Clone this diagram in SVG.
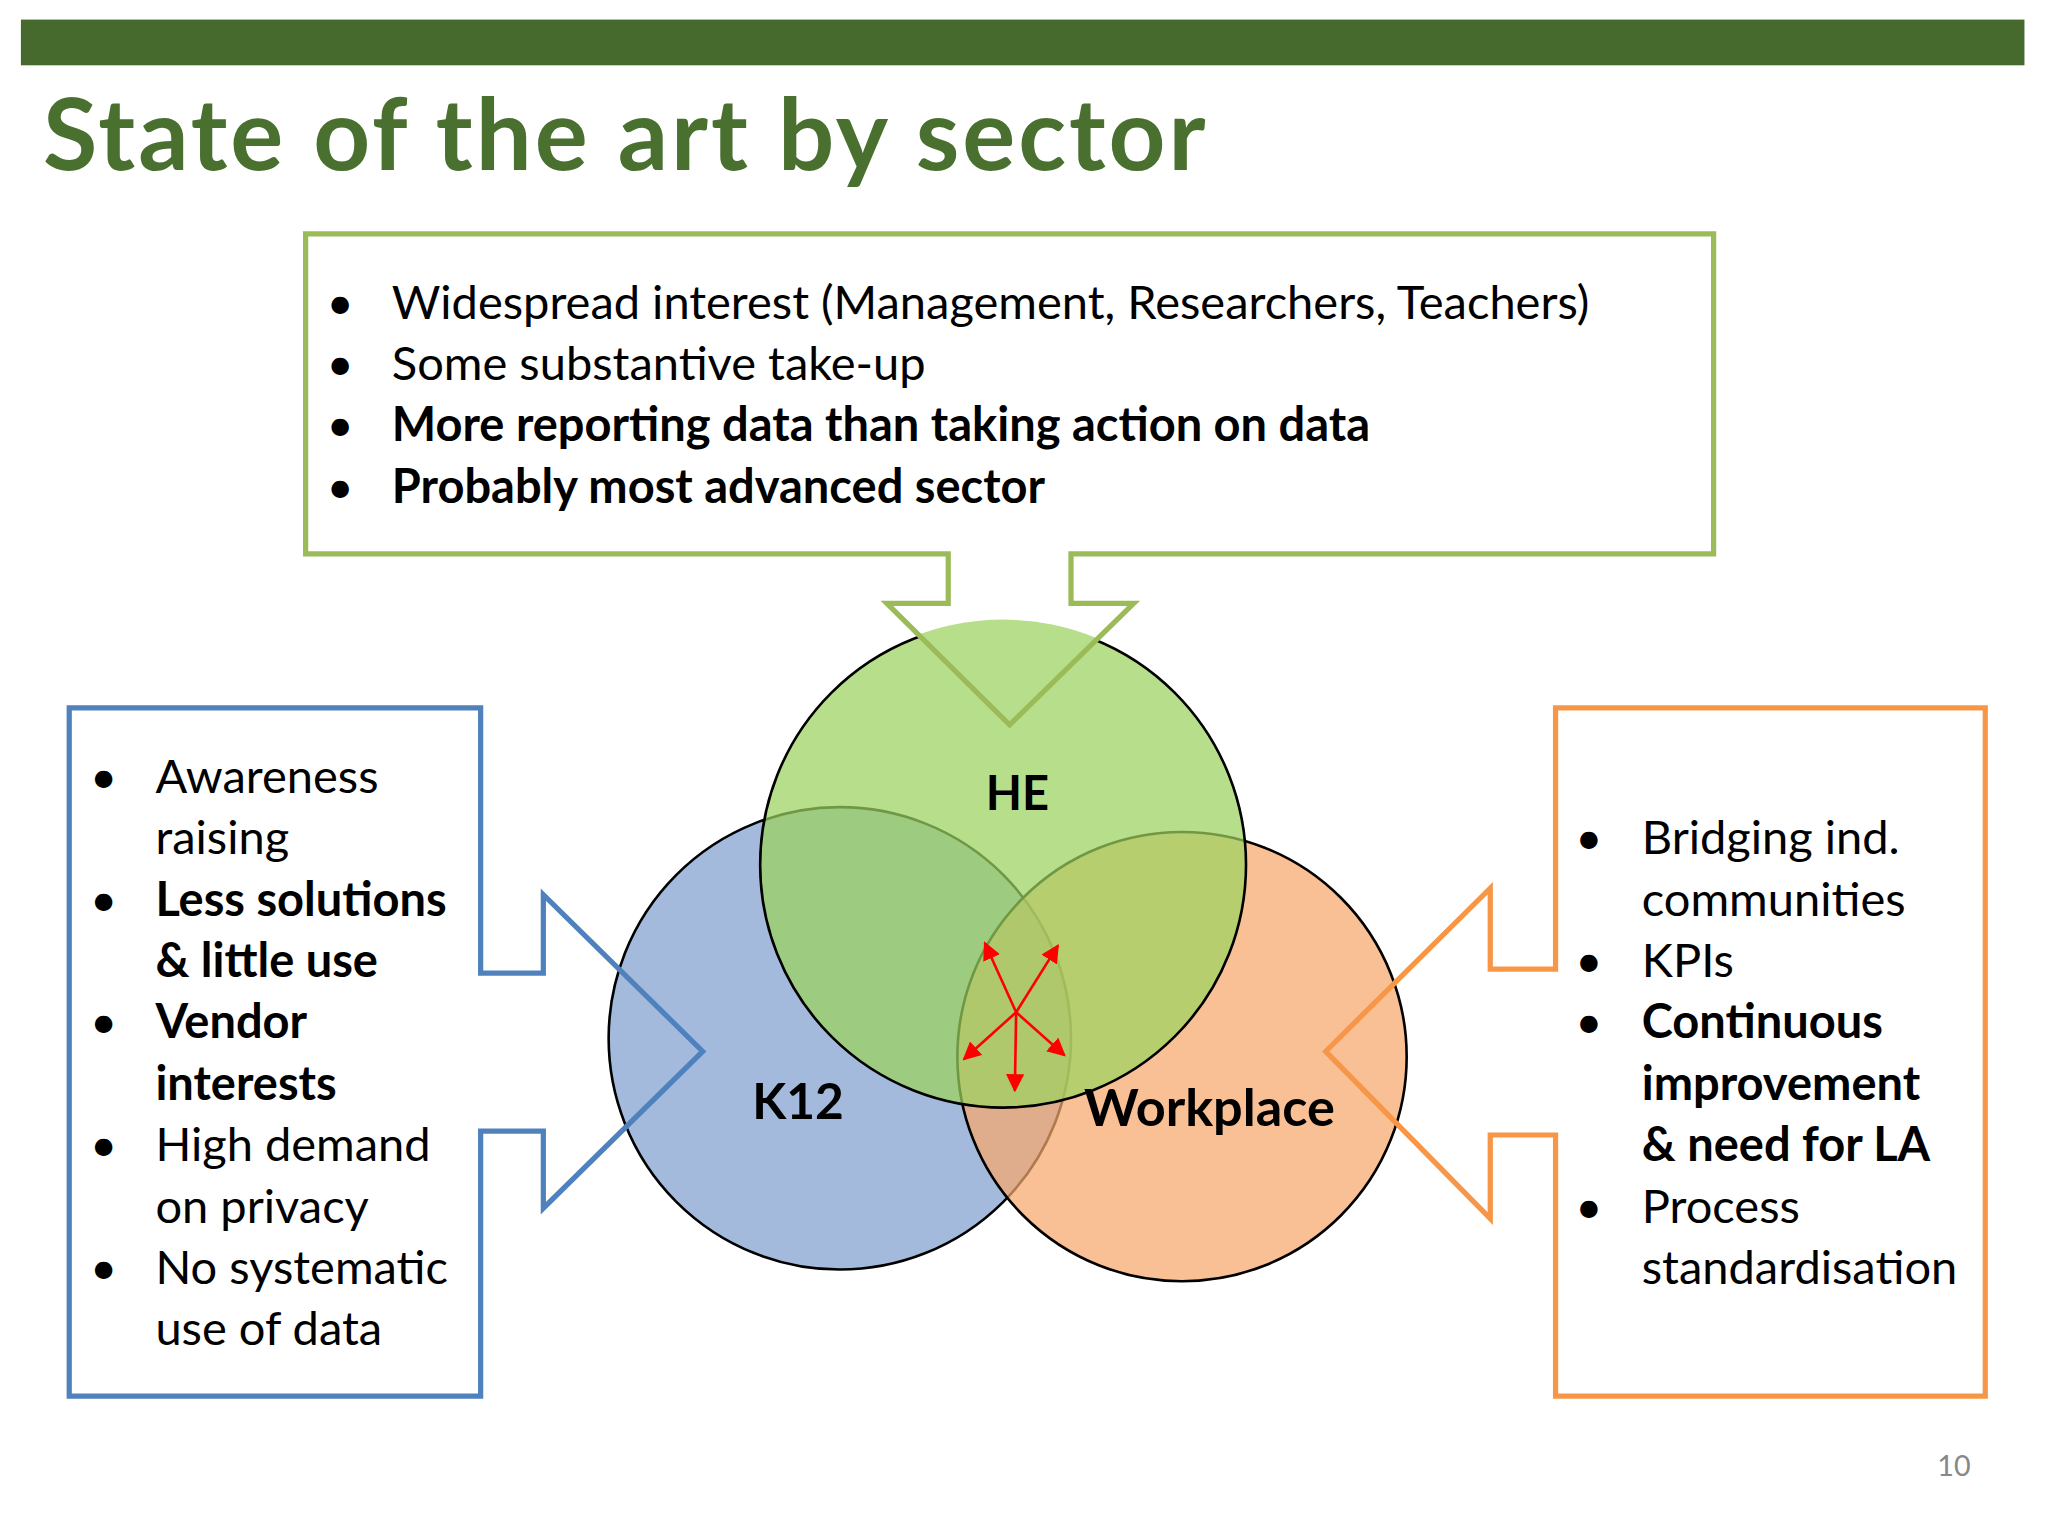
<svg xmlns="http://www.w3.org/2000/svg" width="2048" height="1536" viewBox="0 0 2048 1536">
<style>
text{font-family:Lato,"Open Sans","DejaVu Sans",sans-serif;fill:#000}
.t{font-size:36px}
.b{font-weight:bold}
.c{stroke:#000;stroke-width:2;fill-opacity:0.72}
.ra{stroke:#f00;stroke-width:2;fill:none;marker-end:url(#ah)}
</style>
<defs>
<marker id="ah" viewBox="0 0 10 10" refX="9" refY="5" markerWidth="7" markerHeight="7" orient="auto"><path d="M0,0 L10,5 L0,10 z" fill="#f00"/></marker>
<clipPath id="heclip"><circle cx="768" cy="662" r="187.6"/></clipPath>
</defs>
<rect width="2048" height="1536" fill="#fff"/>
<g transform="scale(1.3061)">
<rect x="16" y="15" width="1534" height="35" fill="#466a2d"/>
<text x="33" y="130" font-size="76" class="b" style="fill:#4a7030" textLength="890">State of the art by sector</text>
<g id="circles">
<circle id="k12" class="c" cx="643" cy="795" r="177" fill="#7f9fcf"/>
<circle id="workplace" class="c" cx="905" cy="809" r="172" fill="#f6a86c"/>
<g id="he">
<circle class="c" cx="768" cy="662" r="186" fill="#9bd35e"/>
<path d="M820,420 V462 H868 L773,555 L679,462 H726 V420 Z" fill="#b7df8b" clip-path="url(#heclip)"/>
</g>
</g>
<g id="labels" class="b" text-anchor="middle">
<text x="779" y="620" font-size="36">HE</text>
<text x="611" y="857" font-size="38">K12</text>
<text x="926" y="862" font-size="40">Workplace</text>
</g>
<g id="connectors">
<line class="ra" x1="778" y1="775" x2="754" y2="722"/>
<line class="ra" x1="778" y1="775" x2="810" y2="724"/>
<line class="ra" x1="778" y1="775" x2="738" y2="811"/>
<line class="ra" x1="778" y1="775" x2="815" y2="808"/>
<line class="ra" x1="778" y1="775" x2="777" y2="835"/>
</g>
<g id="top">
<path d="M234,179 H1312 V424 H820 V462 H868 L773,555 L679,462 H726 V424 H234 Z" fill="none" stroke="#9bbb59" stroke-width="4"/>
<g class="t">
<text x="250" y="244">•</text><text x="300" y="244">Widespread interest (Management, Researchers, Teachers)</text>
<text x="250" y="291">•</text><text x="300" y="291">Some substantive take-up</text>
<text x="250" y="338">•</text><text x="300" y="338" class="b">More reporting data than taking action on data</text>
<text x="250" y="385">•</text><text x="300" y="385" class="b">Probably most advanced sector</text>
</g></g>
<g id="left">
<path d="M53,542 H368 V745 H416 V685 L538,805 L416,925 V866 H368 V1069 H53 Z" fill="none" stroke="#4f81bd" stroke-width="4"/>
<g class="t">
<text x="69" y="607">•</text><text x="119" y="607">Awareness</text><text x="119" y="654">raising</text>
<text x="69" y="701">•</text><text x="119" y="701" class="b">Less solutions</text><text x="119" y="748" class="b">&amp; little use</text>
<text x="69" y="795">•</text><text x="119" y="795" class="b">Vendor</text><text x="119" y="842" class="b">interests</text>
<text x="69" y="889">•</text><text x="119" y="889">High demand</text><text x="119" y="936">on privacy</text>
<text x="69" y="983">•</text><text x="119" y="983">No systematic</text><text x="119" y="1030">use of data</text>
</g></g>
<g id="right">
<path d="M1191,542 H1520 V1069 H1191 V869 H1141 V933 L1015,805 L1141,680 V742 H1191 Z" fill="none" stroke="#f79646" stroke-width="4"/>
<g class="t">
<text x="1206" y="654">•</text><text x="1257" y="654">Bridging ind.</text><text x="1257" y="701">communities</text>
<text x="1206" y="748">•</text><text x="1257" y="748">KPIs</text>
<text x="1206" y="795">•</text><text x="1257" y="795" class="b">Continuous</text><text x="1257" y="842" class="b">improvement</text><text x="1257" y="889" class="b">&amp; need for LA</text>
<text x="1206" y="936">•</text><text x="1257" y="936">Process</text><text x="1257" y="983">standardisation</text>
</g></g>
<text x="1496" y="1130" font-size="22" text-anchor="middle" style="fill:#888">10</text>
</g>
</svg>
